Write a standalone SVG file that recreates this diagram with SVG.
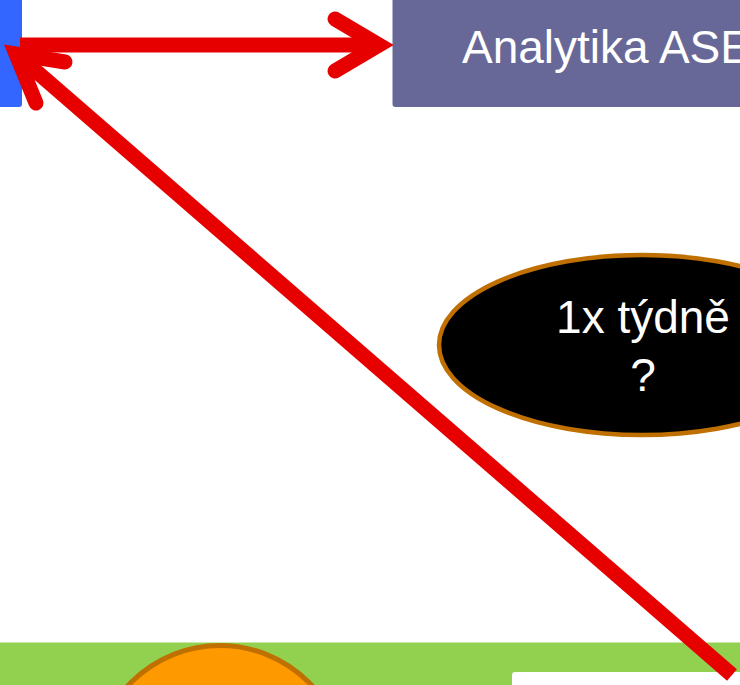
<svg xmlns="http://www.w3.org/2000/svg" width="740" height="685" viewBox="0 0 740 685">
<style>
.lbl{font-family:"Liberation Sans",Arial,sans-serif;fill:#ffffff;}
.arrow{fill:none;stroke:#E60000;stroke-width:15;}
.head{fill:none;stroke:#E60000;stroke-width:15;stroke-linecap:round;stroke-linejoin:miter;stroke-miterlimit:10;}
</style>
<rect width="740" height="685" fill="#ffffff"/>
<g id="ground">
<rect x="-5" y="642" width="760" height="60" fill="#92D050"/>
<line x1="0" y1="642.5" x2="740" y2="642.5" stroke="#c9e8a6" stroke-width="1"/>
</g>
<g id="sun">
<circle cx="220" cy="771" r="125.5" fill="#FF9900" stroke="#C07000" stroke-width="5"/>
</g>
<g id="white-box">
<rect x="512" y="672" width="260" height="40" rx="3" fill="#ffffff"/>
</g>
<g id="blue-node">
<rect x="-20" y="-20" width="42" height="127" rx="3" fill="#3366FF"/>
</g>
<g id="analytika">
<rect x="392.5" y="-20" width="400" height="127" rx="3" fill="#686898"/>
<text class="lbl" x="462" y="63" font-size="46">Analytika ASE</text>
</g>
<g id="weekly">
<ellipse cx="642" cy="345" rx="203" ry="90" fill="#000000" stroke="#C07000" stroke-width="4.5"/>
<text class="lbl" x="643" y="333" font-size="46" text-anchor="middle">1x týdně</text>
<text class="lbl" x="643" y="391" font-size="46" text-anchor="middle">?</text>
</g>
<g id="connectors">
<line class="arrow" x1="20" y1="45" x2="375" y2="45"/>
<polyline class="head" points="335,19 379,45 335,71"/>
<line class="arrow" x1="732" y1="675" x2="22" y2="59"/>
<polyline class="head" points="65,62 16,54 36,103"/>
</g>
</svg>
